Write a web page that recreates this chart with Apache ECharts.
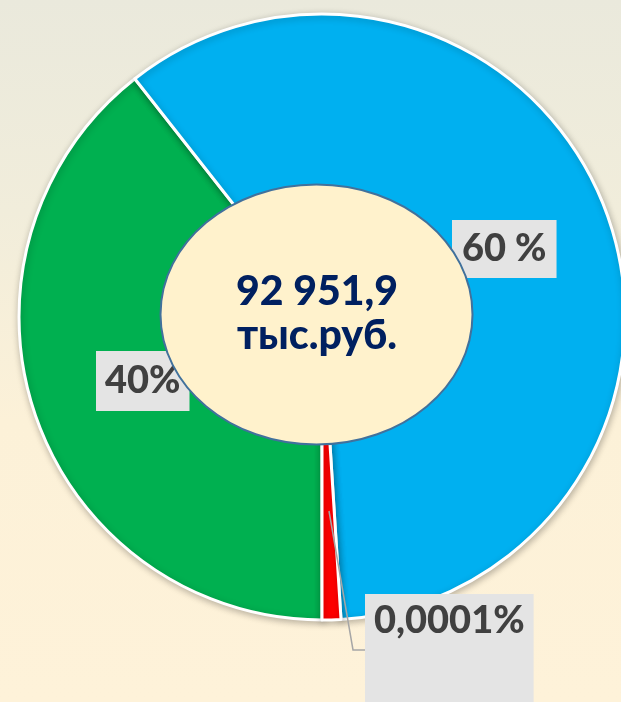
<!DOCTYPE html>
<html lang="ru" style="height: 100%">
  <head>
    <meta charset="utf-8" />
  </head>
  <body style="height: 100%; margin: 0">
    <div id="container" style="height: 100%"></div>

    <script
      type="text/javascript"
      src="https://fastly.jsdelivr.net/npm/echarts@6/dist/echarts.min.js"
    ></script>

    <script type="text/javascript">
      // slice order: clockwise from 6 o'clock
      var labels = ["40%", "60 %", "0,0001%"];
      var values = [39.4, 59.6, 1.0];
      var colors = ["#00B050", "#00B0F0", "#FF0000"];
      var totalText = "92 951,9\nтыс.руб.";

      var dom = document.getElementById("container");
      var myChart = echarts.init(dom, null, { renderer: "canvas" });

      // label boxes (top-left)
      var labelPos = [
        { x: 96, y: 351, inside: true },
        { x: 452, y: 220, inside: true },
        { x: 365, y: 594 },
      ];
      var labelPad = [
        [11, 9, 11, 9],
        [10, 10, 10, 10],
        [8, 9, 62, 9],
      ];
      // leader line of the tiny slice: runs over the slices, so drawn on top
      var leader = [[329, 511], [353, 650], [365, 650]];

      var option = {
        backgroundColor: {
          type: "linear",
          x: 0, y: 0, x2: 0, y2: 1,
          colorStops: [
            { offset: 0, color: "#EAE9DC" },
            { offset: 0.3, color: "#F1EDDB" },
            { offset: 0.6, color: "#FCF1D8" },
            { offset: 1, color: "#FEF2D9" },
          ],
        },
        animation: false,
        series: [
          {
            type: "pie",
            center: [322, 317],
            radius: [0, 303],
            startAngle: -90,
            clockwise: true,
            silent: true,
            itemStyle: {
              borderColor: "#FFFFFF",
              borderWidth: 3,
              shadowBlur: 7,
              shadowColor: "rgba(0,0,0,0.25)",
              shadowOffsetX: 1,
              shadowOffsetY: 2,
            },
            label: {
              show: true,
              formatter: "{b}",
              fontFamily: "Lato",
              fontWeight: 900,
              fontSize: 38,
              color: "#404040",
              backgroundColor: "#E4E4E4",
              overflow: "none",
            },
            labelLine: { show: false },
            labelLayout: function (p) {
              var pos = labelPos[p.dataIndex];
              return { x: pos.x, y: pos.y, align: "left", verticalAlign: "top" };
            },
            data: values.map(function (v, i) {
              return {
                name: labels[i],
                value: v,
                itemStyle: { color: colors[i] },
                label: {
                  padding: labelPad[i],
                  position: labelPos[i].inside ? "inside" : "outside",
                },
              };
            }),
          },
        ],
        graphic: [
          {
            type: "polyline",
            z: 50,
            silent: true,
            shape: { points: leader },
            style: { stroke: "#A6A6A6", lineWidth: 1.5, fill: null },
          },
          {
            type: "ellipse",
            z: 100,
            shape: { cx: 316.5, cy: 314.5, rx: 156, ry: 130 },
            style: { fill: "#FFF2CC", stroke: "#41719C", lineWidth: 2 },
          },
          {
            type: "text",
            z: 101,
            x: 317,
            y: 314,
            style: {
              text: totalText,
              fontFamily: "Lato",
              fontWeight: 900,
              fontSize: 41,
              lineHeight: 44,
              fill: "#002060",
              align: "center",
              verticalAlign: "middle",
            },
          },
        ],
      };

      myChart.setOption(option);
      window.addEventListener("resize", myChart.resize);
    </script>
  </body>
</html>
